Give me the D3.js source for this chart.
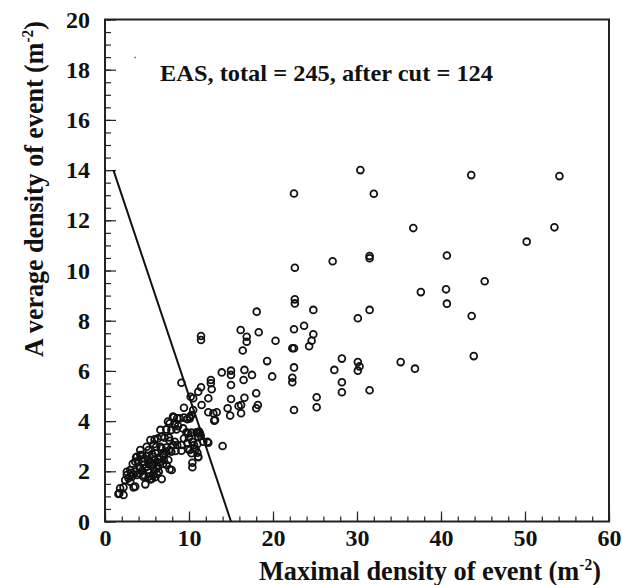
<!DOCTYPE html>
<html>
<head>
<meta charset="utf-8">
<script src="https://cdn.jsdelivr.net/npm/d3@7"></script>
<style>
  body { margin: 0; background: #fff; }
  text { font-family: "Liberation Serif", "Times New Roman", serif; font-weight: bold; fill: #111; }
</style>
</head>
<body>
<svg id="chart" width="622" height="585"></svg>
<script>
// maximal density (x) and average density (y) of each event
var maxDensity = [
  30.4, 43.6, 54.1, 22.5, 32.0, 36.7, 53.5, 50.2, 40.7, 31.5, 31.5, 27.1, 22.6, 45.2, 37.6, 40.6,
  40.7, 22.6, 22.6, 24.8, 31.5, 30.1, 43.65, 23.7, 22.5, 24.8, 24.6, 24.3, 22.3, 22.5, 22.5, 22.3,
  22.3, 28.2, 27.3, 28.2, 28.2, 30.1, 30.3, 30.1, 31.5, 35.2, 36.9, 43.9, 25.2, 25.2, 22.5,
  18.06, 11.43, 11.43, 16.15, 16.87, 16.87, 18.3, 16.4, 20.3, 19.3, 19.9, 13.9, 15.0, 15.0, 16.6,
  17.5, 16.5, 15.0, 18.0, 16.6, 15.0, 18.2, 18.0, 16.2, 15.9, 14.6, 14.9, 16.2, 12.9, 13.1, 12.6,
  12.6, 12.7, 11.43, 11.1, 12.3, 10.5, 11.5, 9.4, 10.1, 9.4, 9.1,
  10.2, 10.5, 12.3, 13.3, 13.0, 8.2, 8.6, 7.5, 7.7, 6.6, 7.3, 7.9, 8.7, 9.3, 9.8, 10.1,
  9.7, 10.3, 10.9, 11.3, 9.4, 10.0, 10.4, 10.6, 10.1, 10.6, 11.0, 11.1, 10.4, 10.4, 11.4, 11.7,
  12.2, 14.0, 5.4, 5.9, 6.3, 6.75, 7.1, 7.6, 5.8, 6.6, 7.3, 8.1, 8.6, 9.1, 9.1, 7.3,
  7.7, 8.4, 3.7, 4.2, 4.7, 5.2, 5.6, 5.95, 6.5, 7.0, 4.1, 4.6, 5.2, 5.75, 6.3, 6.9,
  7.7, 2.6, 3.1, 3.6, 4.1, 4.6, 5.2, 5.7, 6.2, 6.75, 5.55, 2.4, 3.0, 3.6, 2.2, 3.4,
  4.8, 1.7, 2.2,
  8.1, 8.9, 10.3, 8.3, 8.5, 9.9, 11.2, 11.1, 12.3, 9.8, 11.0, 9.9, 10.3, 10.8, 11.1, 7.7,
  8.3, 4.96, 6.1, 6.75, 7.9, 4.2, 4.4, 3.8, 3.6, 5.15, 5.75, 6.35, 7.54, 4.96, 5.56, 6.15,
  7.34, 7.94, 3.0, 4.2, 2.6, 3.2, 3.8, 4.56, 5.36, 5.95, 1.8, 1.6,
  5.0, 5.5, 6.0, 6.5, 7.0, 4.5, 5.1, 6.4, 6.9, 3.3, 3.9, 4.4, 5.3, 5.9, 2.8, 3.4
]
var avgDensity = [
  14.0, 13.8, 13.76, 13.07, 13.06, 11.69, 11.72, 11.15, 10.6, 10.58, 10.49, 10.37, 10.11, 9.57, 9.14, 9.25,
  8.68, 8.85, 8.69, 8.43, 8.43, 8.10, 8.19, 7.80, 7.66, 7.46, 7.2, 6.98, 6.90, 6.90, 6.14, 5.73,
  5.55, 6.49, 6.04, 5.55, 5.15, 6.35, 6.18, 6.01, 5.23, 6.35, 6.09, 6.59, 4.95, 4.55, 4.44,
  8.36, 7.39, 7.23, 7.63, 7.36, 7.16, 7.54, 6.81, 7.2, 6.39, 5.78, 5.94, 6.01, 5.84, 6.04,
  5.84, 5.64, 5.44, 5.11, 4.93, 4.88, 4.64, 4.51, 4.64, 4.60, 4.51, 4.22, 4.31, 4.31, 4.04, 5.64,
  5.51, 5.27, 5.35, 5.17, 4.91, 4.91, 4.64, 4.53, 4.17, 4.14, 5.53,
  4.97, 4.44, 4.35, 4.35, 4.02, 4.15, 4.11, 3.98, 3.91, 3.65, 3.67, 3.65, 3.80, 3.71, 4.08, 4.11,
  3.55, 3.54, 3.55, 3.51, 3.31, 3.35, 3.18, 3.05, 2.85, 2.92, 2.74, 2.56, 2.34, 2.16, 3.41, 3.18,
  3.18, 3.01, 3.25, 3.27, 3.31, 3.38, 3.34, 3.35, 3.08, 2.98, 2.95, 3.05, 3.05, 3.05, 2.82, 2.78,
  2.85, 2.81, 2.56, 2.65, 2.52, 2.85, 2.69, 2.45, 2.56, 2.45, 2.18, 2.25, 2.28, 2.25, 2.18, 2.29,
  2.08, 1.98, 1.94, 1.98, 1.92, 1.85, 1.78, 1.82, 1.89, 1.69, 1.69, 1.65, 1.59, 1.39, 1.36, 1.36,
  1.48, 1.12, 1.06,
  4.18, 4.11, 4.24, 3.84, 3.67, 3.51, 3.58, 3.38, 3.14, 3.14, 3.09, 2.88, 2.72, 2.88, 2.58, 3.22,
  3.18, 2.98, 2.98, 2.92, 2.78, 2.85, 2.65, 2.58, 2.38, 2.45, 2.58, 2.48, 2.45, 2.18, 2.25, 2.12,
  2.25, 2.05, 2.05, 2.12, 1.85, 1.78, 1.85, 1.78, 1.68, 1.76, 1.32, 1.10,
  2.62, 2.35, 2.72, 2.35, 2.62, 2.38, 2.05, 1.98, 2.68, 2.30, 2.40, 2.02, 1.95, 2.02, 1.72, 1.88
]

// the cut line: x + y = 15
var cutX = [1, 15]
var cutY = [14, 0]

var xTicks = [0, 10, 20, 30, 40, 50, 60]
var yTicks = [0, 2, 4, 6, 8, 10, 12, 14, 16, 18, 20]
var note = 'EAS, total = 245, after cut = 124'

var marginLeft = 105, marginTop = 19.5, plotW = 504, plotH = 502

var svg = d3.select('#chart')
var g = svg.append('g').attr('transform', 'translate(' + marginLeft + ',' + marginTop + ')')

var xScale = d3.scaleLinear().domain([0, 60]).range([0, plotW])
var yScale = d3.scaleLinear().domain([0, 20]).range([plotH, 0])

// minor ticks, pointing into the plot
g.append('g')
  .attr('transform', 'translate(0,' + plotH + ')')
  .call(d3.axisBottom(xScale).tickValues(d3.range(0, 61, 2)).tickSize(-5).tickFormat(''))
g.append('g')
  .call(d3.axisLeft(yScale).tickValues(d3.range(0, 20.1, 0.5)).tickSize(-6).tickFormat(''))

// major ticks with labels
g.append('g')
  .attr('transform', 'translate(0,' + plotH + ')')
  .call(d3.axisBottom(xScale).tickValues(xTicks).tickSize(-10).tickPadding(7))
g.append('g')
  .call(d3.axisLeft(yScale).tickValues(yTicks).tickSize(-11).tickPadding(15))

g.selectAll('.domain').remove()
g.selectAll('.tick line').attr('stroke', '#222').attr('stroke-width', 1.2)
g.selectAll('.tick text')
  .style('font-family', '"Liberation Serif", serif')
  .style('font-weight', 'bold')
  .style('font-size', '24px')
  .attr('fill', '#111')

// frame
g.append('rect')
  .attr('width', plotW).attr('height', plotH)
  .attr('fill', 'none').attr('stroke', '#222').attr('stroke-width', 2)

// cut line
g.append('line')
  .attr('x1', xScale(cutX[0])).attr('y1', yScale(cutY[0]))
  .attr('x2', xScale(cutX[1])).attr('y2', yScale(cutY[1]))
  .attr('stroke', '#111').attr('stroke-width', 2)

// events
g.selectAll('circle.ev')
  .data(maxDensity)
  .enter().append('circle')
  .attr('class', 'ev')
  .attr('cx', d => xScale(d))
  .attr('cy', (d, i) => yScale(avgDensity[i]))
  .attr('r', 3.4)
  .attr('fill', 'none')
  .attr('stroke', '#111')
  .attr('stroke-width', 1.8)

// legend text and its tiny marker
g.append('circle').attr('cx', 30).attr('cy', 38).attr('r', 0.9).attr('fill', '#777')
g.append('text')
  .attr('x', 55).attr('y', 61)
  .style('font-size', '24px')
  .attr('textLength', 333)
  .attr('lengthAdjust', 'spacingAndGlyphs')
  .text(note)

// axis titles
svg.append('text')
  .attr('x', 259).attr('y', 580)
  .style('font-size', '27px')
  .attr('textLength', 342)
  .attr('lengthAdjust', 'spacingAndGlyphs')
  .html('Maximal density of event (m<tspan style="font-size:16px" dy="-10">-2</tspan><tspan dy="10">)</tspan>')

svg.append('text')
  .attr('transform', 'translate(43,357) rotate(-90)')
  .style('font-size', '27px')
  .attr('textLength', 336)
  .attr('lengthAdjust', 'spacingAndGlyphs')
  .html('A verage density of event (m<tspan style="font-size:16px" dy="-10">-2</tspan><tspan dy="10">)</tspan>')
</script>
</body>
</html>
